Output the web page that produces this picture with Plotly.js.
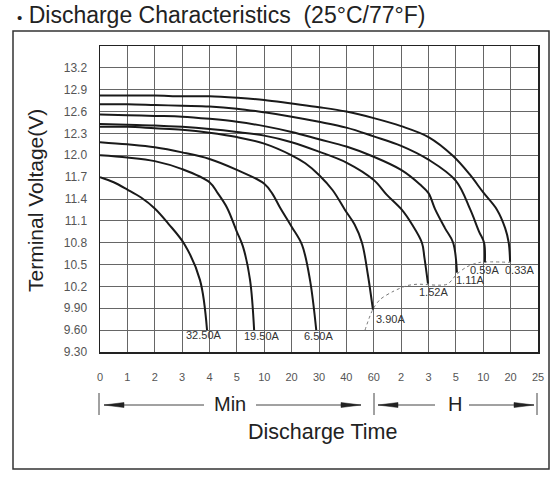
<!DOCTYPE html>
<html>
<head>
<meta charset="utf-8">
<script src="https://cdn.plot.ly/plotly-3.0.1.min.js"></script>
<style>
html,body{margin:0;padding:0;background:#fff;}
#chart{width:559px;height:478px;}
</style>
</head>
<body>
<div id="chart"></div>
<script>
// ---- tick labels ----
const xTickLabels = ['0','1','2','3','4','5','10','20','30','40','60','2','3','5','10','20','25'];
const yTickVals = [9.3,9.6,9.9,10.2,10.5,10.8,11.1,11.4,11.7,12.0,12.3,12.6,12.9,13.2];
const yTickLabels = ['9.30','9.60','9.90','10.2','10.5','10.8','11.1','11.4','11.7','12.0','12.3','12.6','12.9','13.2'];

// ---- discharge currents ----
const currents = ['32.50A','19.50A','6.50A','3.90A','1.52A','1.11A','0.59A','0.33A'];

// ---- curves (x = time grid position, v = terminal voltage) ----
const c1x = [0,0.5,1,1.5,2,2.5,3.1,3.65,3.91];
const c1v = [11.70,11.63,11.53,11.42,11.27,11.06,10.77,10.29,9.60];
const c2x = [0,1,2,3,4,4.3,4.64,5.0,5.22,5.48,5.63];
const c2v = [12.00,11.97,11.92,11.81,11.63,11.48,11.28,10.95,10.75,10.29,9.60];
const c3x = [0,1,2,3,4,5,6,6.3,6.58,7.0,7.38,7.67,7.9];
const c3v = [12.18,12.15,12.11,12.04,11.95,11.80,11.61,11.47,11.28,11.02,10.77,10.29,9.60];
const c4x = [0,1,2,3,4,5,6,7,7.5,8,8.5,8.95,9.3,9.57,9.79,9.97];
const c4v = [12.39,12.39,12.37,12.35,12.31,12.25,12.16,12.00,11.89,11.73,11.52,11.25,11.05,10.80,10.35,9.88];
const c5x = [0,1,2,3,4,5,6,7,8,9,10,10.47,11.03,11.4,11.76,11.85,11.98];
const c5v = [12.43,12.42,12.41,12.39,12.36,12.32,12.27,12.18,12.05,11.90,11.66,11.46,11.25,11.05,10.80,10.60,10.24];
const c6x = [0,1,2,3,4,5,6,7,8,9,10,11,11.69,12,12.24,12.6,12.9,13.04];
const c6v = [12.56,12.55,12.54,12.53,12.50,12.46,12.40,12.32,12.22,12.12,11.98,11.80,11.60,11.48,11.26,11.00,10.80,10.39];
const c7x = [0,1,2,3,4,5,6,7,8,9,10,11,12,13,13.52,13.85,14.03,14.06];
const c7v = [12.70,12.70,12.69,12.68,12.67,12.64,12.59,12.53,12.46,12.38,12.26,12.13,11.94,11.65,11.26,10.95,10.80,10.53];
const c8x = [0,1,2,3,4,5,6,7,8,9,10,11,12,12.9,13.5,14,14.49,14.8,14.93,14.98];
const c8v = [12.82,12.82,12.82,12.81,12.81,12.79,12.76,12.71,12.66,12.60,12.51,12.40,12.25,11.99,11.74,11.49,11.26,11.0,10.80,10.54];

// ---- end-voltage dotted line ----
const endX = [9.68,9.96,10.23,10.70,11.21,11.58,12.68,13.04,13.41,13.88,14.98];
const endV = [9.60,9.88,10.02,10.13,10.21,10.23,10.23,10.37,10.47,10.53,10.53];

// ---- current label positions ----
const labelX = [3.80,5.92,7.99,10.61,12.17,13.52,14.03,15.31];
const labelV = [9.53,9.52,9.52,9.75,10.13,10.29,10.43,10.43];

const curveX = [c1x,c2x,c3x,c4x,c5x,c6x,c7x,c8x];
const curveV = [c1v,c2v,c3v,c4v,c5v,c6v,c7v,c8v];

const FONT = 'Liberation Sans, Arial, Helvetica, sans-serif';

const traces = [];
traces.push({
  x: endX, y: endV, mode: 'lines', type: 'scatter',
  line: {color: '#777', width: 1, dash: 'dot', shape: 'spline', smoothing: 0.8},
  hoverinfo: 'skip', showlegend: false
});
for (let i = 0; i < curveX.length; i++) {
  traces.push({
    x: curveX[i], y: curveV[i], mode: 'lines', type: 'scatter', name: currents[i],
    line: {color: '#1a1a1a', width: 2, shape: 'spline', smoothing: 1.0},
    hoverinfo: 'skip', showlegend: false
  });
}

// plot area pixel geometry for decorations
const L = 100, R = 538, T = 46, B = 352;
const px = v => (v - L) / (R - L);
const py = v => (B - v) / (B - T);

const annotations = currents.map((c, i) => ({
  x: labelX[i], y: labelV[i], xref: 'x', yref: 'y', text: c, showarrow: false,
  xanchor: 'center', yanchor: 'middle',
  font: {family: FONT, size: 11, color: '#333'}
}));
function txt(x, y, text, size, extra) {
  return Object.assign({
    x: px(x), y: py(y), xref: 'paper', yref: 'paper', text: text, showarrow: false,
    xanchor: 'center', yanchor: 'middle',
    font: {family: FONT, size: size, color: '#222'}
  }, extra || {});
}
annotations.push(txt(15, 15, '<span style="font-size:15px">•</span> Discharge Characteristics  (25°C/77°F)', 23, {xanchor: 'left'}));
annotations.push(txt(35, 201, 'Terminal Voltage(V)', 21, {textangle: -90}));
annotations.push(txt(230, 404, 'Min', 20));
annotations.push(txt(455, 404, 'H', 20));
annotations.push(txt(322, 432, 'Discharge Time', 21.5));

const shapes = [];
// outer frame
shapes.push({type: 'rect', xref: 'paper', yref: 'paper', x0: px(13), x1: px(549), y0: py(469), y1: py(31),
  line: {color: '#333', width: 1.5}});
// arrow bars
[99, 374, 537].forEach(xx => shapes.push({type: 'line', xref: 'paper', yref: 'paper',
  x0: px(xx), x1: px(xx), y0: py(393), y1: py(415), line: {color: '#444', width: 1}}));
// arrow lines
[[104, 204], [256, 361], [378, 435], [469, 534]].forEach(s => shapes.push({type: 'line', xref: 'paper', yref: 'paper',
  x0: px(s[0]), x1: px(s[1]), y0: py(405), y1: py(405), line: {color: '#444', width: 1}}));
// arrow heads [tip, base]
[[104, 124], [361, 341], [378, 398], [534, 514]].forEach(h => {
  const tip = px(h[0]), base = px(h[1]), yc = py(405), hh = 2.5 / (B - T);
  shapes.push({type: 'path', xref: 'paper', yref: 'paper',
    path: `M ${tip},${yc} L ${base},${yc + hh} L ${base},${yc - hh} Z`,
    fillcolor: '#222', line: {color: '#222', width: 0.5}});
});

const layout = {
  width: 559, height: 478,
  margin: {l: L, r: 559 - R, t: T, b: 478 - B},
  paper_bgcolor: '#fff', plot_bgcolor: '#fff',
  showlegend: false,
  xaxis: {
    range: [0, 16], tickmode: 'array',
    tickvals: xTickLabels.map((_, i) => i), ticktext: xTickLabels,
    showgrid: true, gridcolor: '#666', gridwidth: 1,
    zeroline: false, showline: true, mirror: true, linecolor: '#222', linewidth: 1.5,
    ticks: 'outside', ticklen: 14, tickcolor: 'rgba(0,0,0,0)',
    tickfont: {family: FONT, size: 11, color: '#555'}, fixedrange: true
  },
  yaxis: {
    range: [9.3, 13.5], tickmode: 'array',
    tickvals: yTickVals, ticktext: yTickLabels,
    showgrid: true, gridcolor: '#666', gridwidth: 1,
    zeroline: false, showline: true, mirror: true, linecolor: '#222', linewidth: 1.5,
    ticks: 'outside', ticklen: 9, tickcolor: 'rgba(0,0,0,0)',
    tickfont: {family: FONT, size: 12, color: '#555'}, fixedrange: true
  },
  annotations: annotations,
  shapes: shapes
};

Plotly.newPlot('chart', traces, layout, {staticPlot: true, displayModeBar: false});
</script>
</body>
</html>
